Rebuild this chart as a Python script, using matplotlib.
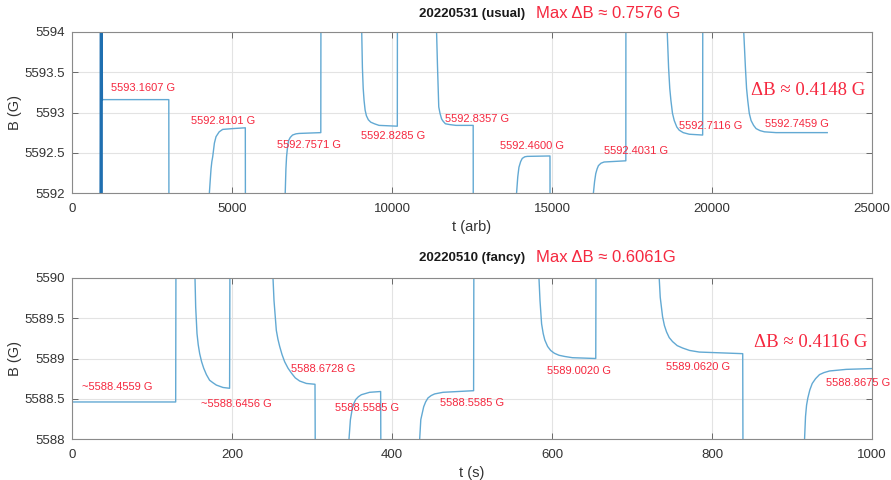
import numpy as np
import matplotlib.pyplot as plt

# ---- top run: 20220531 (usual), t in arb units ----
spike_t = [880, 895, 905, 915, 925, 935, 945]
spike_b = [5591.5, 5594.5, 5591.5, 5594.5, 5591.5, 5594.5, 5593.16]

top_t = [945, 3025, 3030,
         4280, 4293, 4320, 4345, 4370, 4397, 4450, 4501, 4600, 4709, 5021, 5416, 5420,
         6650, 6663, 6685, 6705, 6735, 6767, 6820, 6892, 7000, 7100, 7775, 7780,
         9040, 9054, 9075, 9100, 9127, 9160, 9200, 9260, 9335, 9450, 9594, 10166, 10170,
         11380, 11393, 11420, 11461, 11500, 11550, 11600, 11670, 11800, 12000, 12537, 12540,
         13880, 13893, 13930, 13967, 14020, 14071, 14150, 14228, 14937, 14940,
         16280, 16294, 16330, 16367, 16410, 16451, 16530, 16628, 17307, 17310,
         18590, 18601, 18643, 18680, 18716, 18765, 18820, 18900, 18977, 19100, 19290, 19708, 19712,
         20980, 20992, 21044, 21080, 21117, 21165, 21221, 21300, 21378, 21500, 21639, 22000, 23601]
top_b = [5593.16, 5593.16, 5591.5,
         5591.5, 5592.0, 5592.16, 5592.30, 5592.39, 5592.45, 5592.62, 5592.70, 5592.76, 5592.79, 5592.80, 5592.81, 5591.5,
         5591.5, 5592.0, 5592.30, 5592.45, 5592.57, 5592.65, 5592.69, 5592.72, 5592.735, 5592.74, 5592.75, 5594.5,
         5594.5, 5594.0, 5593.56, 5593.30, 5593.15, 5593.03, 5592.96, 5592.91, 5592.88, 5592.86, 5592.84, 5592.83, 5594.5,
         5594.5, 5594.0, 5593.60, 5593.07, 5592.99, 5592.92, 5592.89, 5592.86, 5592.85, 5592.84, 5592.84, 5591.5,
         5591.5, 5592.0, 5592.20, 5592.32, 5592.39, 5592.43, 5592.45, 5592.455, 5592.46, 5591.5,
         5591.5, 5592.0, 5592.14, 5592.24, 5592.30, 5592.34, 5592.37, 5592.385, 5592.40, 5594.5,
         5594.5, 5594.0, 5593.56, 5593.30, 5593.15, 5592.99, 5592.90, 5592.82, 5592.78, 5592.75, 5592.73, 5592.72, 5594.5,
         5594.5, 5594.0, 5593.56, 5593.30, 5593.15, 5592.99, 5592.90, 5592.84, 5592.80, 5592.775, 5592.76, 5592.75, 5592.75]

top_lbl = ['5593.1607 G', '5592.8101 G', '5592.7571 G', '5592.8285 G', '5592.8357 G',
           '5592.4600 G', '5592.4031 G', '5592.7116 G', '5592.7459 G']
top_lbl_t = [1206, 3721, 6403, 9044, 11670, 13361, 16628, 18956, 21670]
top_lbl_b = [5593.31, 5592.90, 5592.60, 5592.71, 5592.92, 5592.584, 5592.518, 5592.836, 5592.86]

# ---- bottom run: 20220510 (fancy), t in s ----
bot_t = [0, 129.6, 130,
         153.0, 153.75, 154.6, 156.25, 157.8, 159.6, 162, 164.6, 168, 172, 176, 180.4, 188.75, 197, 197.5,
         250.5, 251.25, 252.5, 255.4, 257.4, 259.6, 262.5, 265.8, 270, 274.2, 279, 284.6, 293, 303.75, 304.2,
         345.5, 346.25, 348, 350.4, 352.3, 354.6, 358, 361.7, 372, 385.8, 386.2,
         434, 434.6, 436, 439.6, 442, 445, 449, 453.3, 463.75, 502, 502.4,
         583, 583.7, 585, 587, 589, 591, 594.5, 598.3, 603, 608.8, 616, 625.5, 654.7, 655.1,
         733.5, 734, 735.3, 738.2, 740.5, 743.2, 746.5, 750.7, 756.5, 763.3, 772, 784.1, 838.4, 838.8,
         915.2, 915.7, 916.9, 918.2, 919.8, 922.3, 925.3, 929.5, 934.4, 940, 947, 967.8, 1000]
bot_b = [5588.46, 5588.46, 5590.5,
         5590.5, 5590.0, 5589.64, 5589.31, 5589.17, 5589.06, 5588.96, 5588.88, 5588.80, 5588.73, 5588.70, 5588.67, 5588.64, 5588.63, 5590.5,
         5590.5, 5590.0, 5589.72, 5589.35, 5589.24, 5589.15, 5589.05, 5588.96, 5588.88, 5588.82, 5588.76, 5588.72, 5588.69, 5588.68, 5587.5,
         5587.5, 5588.0, 5588.24, 5588.38, 5588.44, 5588.49, 5588.525, 5588.55, 5588.58, 5588.59, 5587.5,
         5587.5, 5588.0, 5588.24, 5588.40, 5588.46, 5588.51, 5588.54, 5588.56, 5588.58, 5588.60, 5590.5,
         5590.5, 5590.0, 5589.72, 5589.43, 5589.31, 5589.23, 5589.15, 5589.10, 5589.065, 5589.04, 5589.025, 5589.01, 5589.00, 5590.5,
         5590.5, 5590.0, 5589.76, 5589.52, 5589.41, 5589.33, 5589.26, 5589.21, 5589.16, 5589.13, 5589.10, 5589.08, 5589.06, 5587.5,
         5587.5, 5588.0, 5588.28, 5588.42, 5588.51, 5588.61, 5588.69, 5588.75, 5588.80, 5588.825, 5588.845, 5588.865, 5588.875]

bot_lbl = ['~5588.4559 G', '~5588.6456 G', '5588.6728 G', '5588.5585 G', '5588.5585 G',
           '5589.0020 G', '5589.0620 G', '5588.8675 G']
bot_lbl_t = [12.9, 160.8, 274, 328.75, 460.5, 594, 743, 942]
bot_lbl_b = [5588.65, 5588.437, 5588.874, 5588.39, 5588.445, 5588.85, 5588.895, 5588.70]

line_col = '#62a9d3'
red = '#f5283f'
sans = 'Liberation Sans'

plt.rcParams['font.family'] = sans
fig = plt.figure(figsize=(8.91, 4.8), dpi=100)


def style_axes(ax):
    ax.grid(True, color='#e3e3e3', linewidth=0.8)
    ax.set_axisbelow(True)
    for s in ax.spines.values():
        s.set_color('#8a8a8a')
        s.set_linewidth(0.8)
    ax.tick_params(direction='in', top=True, right=True, length=4, width=0.6,
                   color='#555555', labelsize=9.5, labelcolor='#333333')
    ax.tick_params(axis='x', pad=7.5)
    ax.tick_params(axis='y', pad=5)


ax1 = fig.add_axes([72 / 891, 1 - 193 / 480, 800 / 891, 161 / 480])
style_axes(ax1)
ax1.plot(top_t, top_b, color=line_col, linewidth=1.0)
ax1.plot(spike_t, spike_b, color='#1f6fb0', linewidth=1.2)
ax1.set_xlim(0, 25000)
ax1.set_ylim(5592, 5594)
ax1.set_xticks([0, 5000, 10000, 15000, 20000, 25000])
ax1.set_yticks([5592, 5592.5, 5593, 5593.5, 5594])
ax1.set_yticklabels(['5592', '5592.5', '5593', '5593.5', '5594'])
ax1.set_xlabel('t (arb)', fontsize=10.5, color='#333333', labelpad=3)
ax1.set_ylabel('B (G)', fontsize=10.5, color='#333333')
ax1.yaxis.set_label_coords(-0.062, 0.5)
for s, x, y in zip(top_lbl, top_lbl_t, top_lbl_b):
    ax1.text(x, y, s, color=red, fontsize=8, ha='left', va='center', clip_on=False)
ax1.text(21221, 5593.275, 'ΔB ≈ 0.4148 G', color=red, fontsize=13.5,
         family='Liberation Serif', ha='left', va='center', clip_on=False)

ax2 = fig.add_axes([72 / 891, 1 - 439 / 480, 800 / 891, 161 / 480])
style_axes(ax2)
ax2.plot(bot_t, bot_b, color=line_col, linewidth=1.0)
ax2.set_xlim(0, 1000)
ax2.set_ylim(5588, 5590)
ax2.set_xticks([0, 200, 400, 600, 800, 1000])
ax2.set_yticks([5588, 5588.5, 5589, 5589.5, 5590])
ax2.set_yticklabels(['5588', '5588.5', '5589', '5589.5', '5590'])
ax2.set_xlabel('t (s)', fontsize=10.5, color='#333333', labelpad=3)
ax2.set_ylabel('B (G)', fontsize=10.5, color='#333333')
ax2.yaxis.set_label_coords(-0.062, 0.5)
for s, x, y in zip(bot_lbl, bot_lbl_t, bot_lbl_b):
    ax2.text(x, y, s, color=red, fontsize=8, ha='left', va='center', clip_on=False)
ax2.text(853, 5589.196, 'ΔB ≈ 0.4116 G', color=red, fontsize=13.5,
         family='Liberation Serif', ha='left', va='center', clip_on=False)

# titles and overlaid red notes
fig.text(472 / 891, 1 - 14 / 480, '20220531 (usual)', fontsize=9.5, weight='bold',
         ha='center', va='center', color='#1a1a1a')
fig.text(536 / 891, 1 - 14 / 480, 'Max ΔB ≈ 0.7576 G', fontsize=12, color=red,
         ha='left', va='center')
fig.text(472 / 891, 1 - 258 / 480, '20220510 (fancy)', fontsize=9.5, weight='bold',
         ha='center', va='center', color='#1a1a1a')
fig.text(536 / 891, 1 - 258 / 480, 'Max ΔB ≈ 0.6061G', fontsize=12, color=red,
         ha='left', va='center')

fig.savefig('out.png', dpi=100)
